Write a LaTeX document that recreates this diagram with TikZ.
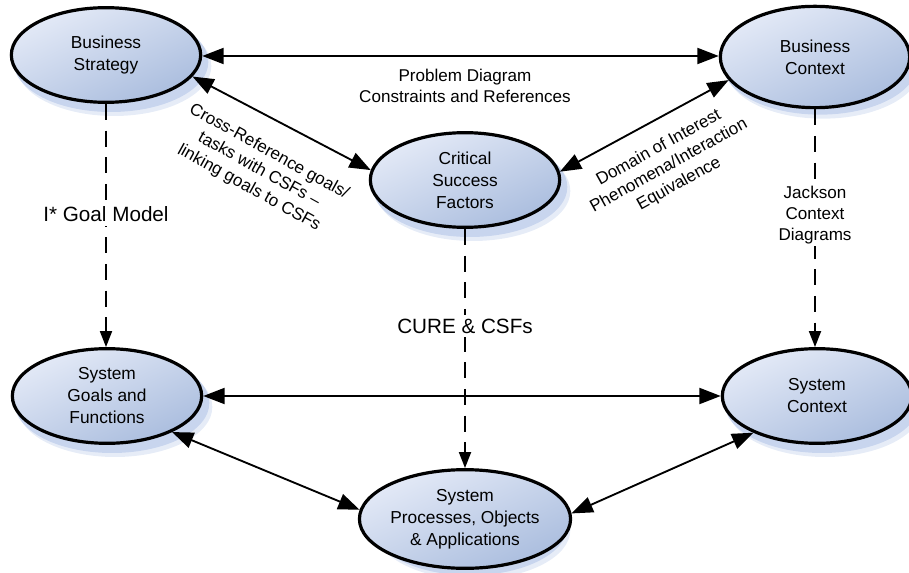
\documentclass[tikz,border=0pt]{standalone}
\usepackage{fontspec}
\setmainfont{Liberation Sans}
\usetikzlibrary{arrows.meta,shapes.geometric}
\definecolor{ellTop}{RGB}{228,234,247}
\definecolor{ellBot}{RGB}{170,189,222}
\definecolor{shadowcol}{RGB}{200,213,238}
\tikzset{
 ellbox/.style={ellipse, draw=black, line width=2.4pt, top color=ellTop, bottom color=ellBot, shading angle=25,
   minimum width=142pt, minimum height=71pt, inner sep=0pt, align=center, font=\fontsize{13}{16.5}\selectfont},
 ellshadow/.style={ellipse, fill=shadowcol, minimum width=146pt, minimum height=75pt, inner sep=0pt},
 biarrow/.style={{Triangle[length=16pt,width=12pt]}-{Triangle[length=16pt,width=12pt]}, line width=1.4pt},
 dasharrow/.style={-{Triangle[length=12pt,width=9pt]}, line width=1.4pt, dash pattern=on 12pt off 8pt},
 lbl/.style={align=center, font=\fontsize{12.8}{15.5}\selectfont, inner sep=1pt},
 biglbl/.style={font=\fontsize{15.5}{18}\selectfont, fill=white, inner sep=3pt},
}
\newcommand\ellnode[4][]{%
  \node[ellshadow, opacity=0.45, #1] at ([shift={(8,11)}]#3) {};
  \node[ellshadow, #1] at ([shift={(5,7)}]#3) {};
  \node[ellbox, #1] (#2) at (#3) {#4};
}
\begin{document}
\begin{tikzpicture}[x=0.75pt, y=-0.75pt]
\useasboundingbox (0,0) rectangle (909,573);
\ellnode{bs}{106,55}{Business\\Strategy}
\ellnode[minimum height=76pt]{bc}{815,57}{Business\\Context}
\ellnode{csf}{465,180}{Critical\\Success\\Factors}
\ellnode{sgf}{107,396}{System\\Goals and\\Functions}
\ellnode{sc}{817,396}{System\\Context}
\ellnode[minimum width=146pt, minimum height=74pt]{sp}{465,519}{System\\Processes, Objects\\\& Applications}

\draw[biarrow] (bs.east |- 0,56) -- (bc.west |- 0,56);
\draw[biarrow] (bs.-14) -- (csf.174);
\draw[biarrow] (bc.195) -- (csf.5);
\draw[biarrow] (sgf) -- (sc);
\draw[biarrow] (sgf.-29) -- (sp.175);
\draw[biarrow] (sc.210) -- (sp.3);

\draw[dasharrow] (bs.south) -- (bs.south |- sgf.north);
\draw[dasharrow] (bc.south) -- (bc.south |- sc.north);
\draw[dasharrow] (csf.south) -- (csf.south |- sp.north);

\node[lbl] (pd) at (465,86) {Problem Diagram\\Constraints and References};
\node[lbl, rotate=-29] (xref) at (259,170) {Cross-Reference goals/\\tasks with CSFs –\\linking goals to CSFs};
\node[lbl, rotate=29] (doi) at (669,166) {Domain of Interest\\Phenomena/Interaction\\Equivalence};
\node[biglbl] (igm) at (106,214) {I* Goal Model};
\node[lbl, fill=white, inner sep=2pt] (jcd) at (815,215) {Jackson\\Context\\Diagrams};
\node[biglbl] (cure) at (465,326) {CURE \& CSFs};
\end{tikzpicture}
\end{document}
